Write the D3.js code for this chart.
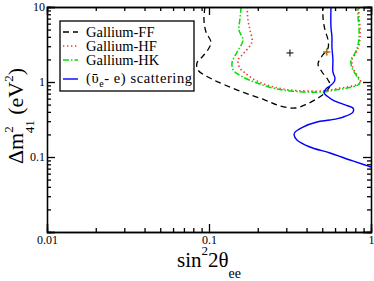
<!DOCTYPE html>
<html lang="en">
<head>
<meta charset="UTF-8">
<title>Gallium anomaly exclusion</title>
<script src="https://d3js.org/d3.v7.min.js"></script>
<style>
  body { margin: 0; background: #fff; }
  svg text { font-family: "Liberation Serif", "DejaVu Serif", serif; fill: #000; }
  .axis path, .axis line { stroke: #000; stroke-width: 1.3px; }
  .axis text { font-size: 12px; font-family: "Liberation Serif", serif; }
</style>
</head>
<body>
<svg width="374" height="281"></svg>
<script>
// ---- data (sin^2 2theta_ee , delta m^2_41 in eV^2) ----
const ffSin = [0.0944, 0.0931, 0.0958, 0.1029, 0.1, 0.0918, 0.0843, 0.0855, 0.1014, 0.1255, 0.1667, 0.2218, 0.2742, 0.3396, 0.4027, 0.471, 0.5275, 0.5585, 0.543, 0.4985, 0.471, 0.4985, 0.543, 0.543, 0.52, 0.5058, 0.5058];
const ffDm2 = [10, 6.71, 4.64, 3.41, 2.84, 2.22, 1.79, 1.445, 1.13, 0.912, 0.714, 0.575, 0.479, 0.45, 0.509, 0.612, 0.736, 0.912, 1.064, 1.36, 1.738, 2.22, 2.84, 3.63, 4.94, 7.13, 10];

const hfSin = [0.172, 0.174, 0.179, 0.184, 0.16, 0.151, 0.155, 0.167, 0.192, 0.228, 0.267, 0.316, 0.506, 0.599, 0.711, 0.843, 0.867, 0.855, 0.82, 0.774, 0.763, 0.808, 0.843, 0.855, 0.855, 0.843, 0.843];
const hfDm2 = [10, 6.71, 4.94, 3.41, 2.29, 1.97, 1.54, 1.318, 1.064, 0.912, 0.832, 0.782, 0.759, 0.807, 0.858, 0.94, 1.0, 1.064, 1.24, 1.54, 1.97, 2.44, 3.11, 3.98, 5.41, 7.36, 10];

const hkSin = [0.158, 0.155, 0.153, 0.162, 0.149, 0.139, 0.141, 0.162, 0.198, 0.248, 0.316, 0.506, 0.599, 0.711, 0.831, 0.855, 0.843, 0.808, 0.763, 0.753, 0.797, 0.831, 0.843, 0.843, 0.831, 0.831];
const hkDm2 = [10, 6.71, 4.94, 3.63, 2.51, 1.85, 1.445, 1.166, 0.97, 0.832, 0.759, 0.736, 0.782, 0.832, 0.912, 1.0, 1.064, 1.24, 1.54, 1.97, 2.44, 3.11, 3.98, 5.41, 7.36, 10];

const scSin = [0.566, 0.566, 0.574, 0.574, 0.582, 0.582, 0.599, 0.591, 0.558, 0.527, 0.513, 0.535, 0.582, 0.692, 0.774, 0.774, 0.672, 0.558, 0.464, 0.38, 0.34, 0.335, 0.349, 0.42, 0.558, 0.742, 0.918, 1.0];
const scDm2 = [10, 5.41, 3.98, 2.93, 1.97, 1.36, 1.13, 1.0, 0.885, 0.807, 0.714, 0.65, 0.575, 0.494, 0.45, 0.398, 0.341, 0.311, 0.293, 0.251, 0.215, 0.197, 0.169, 0.136, 0.113, 0.0912, 0.0782, 0.0736];

// best-fit points
const bestFF = [0.316, 2.44];
const bestHF = [0.535, 2.51];
const bestHK = [0.53, 2.51];

const legendLabels = ["Gallium-FF", "Gallium-HF", "Gallium-HK"];
const xMajor = [0.01, 0.1, 1];
const xMajorLabels = ["0.01", "0.1", "1"];
const yMajor = [0.01, 0.1, 1, 10];
const yMajorLabels = ["", "0.1", "1", "10"];

// ---- layout ----
const svg = d3.select("svg");
const pL = 47, pT = 7, pR = 371, pB = 232;

const x = d3.scaleLog().domain([0.01, 1]).range([pL, pR]);
const y = d3.scaleLog().domain([0.01, 10]).range([pB, pT]);

function minors(lo, hi) {
  const out = [];
  for (let d = lo; d < hi * 0.99; d *= 10)
    for (let k = 2; k <= 9; k++) out.push(d * k);
  return out;
}
const xMinor = minors(0.01, 1);
const yMinor = minors(0.01, 10);

// ---- curves ----
const line = d3.line().x(d => x(d[0])).y(d => y(d[1])).curve(d3.curveCatmullRom.alpha(0.5));
const zip = (a, b) => a.map((v, i) => [v, b[i]]);

const g = svg.append("g");
g.append("defs").append("clipPath").attr("id", "clip")
  .append("rect").attr("x", pL).attr("y", pT).attr("width", pR - pL).attr("height", pB - pT);

const curves = g.append("g").attr("clip-path", "url(#clip)");
const styles = [
  { d: zip(ffSin, ffDm2), color: "#000", dash: "6,4", w: 1.3 },
  { d: zip(hfSin, hfDm2), color: "#ff3030", dash: "1.4,2.6", w: 1.6 },
  { d: zip(hkSin, hkDm2), color: "#00e000", dash: "6,2,1.5,2", w: 1.5 },
  { d: zip(scSin, scDm2), color: "#0000ff", dash: null, w: 1.4 }
];
styles.forEach(s => {
  curves.append("path").attr("d", line(s.d))
    .attr("fill", "none").attr("stroke", s.color)
    .attr("stroke-width", s.w).attr("stroke-dasharray", s.dash);
});

// best-fit crosses
[[bestFF, "#000"], [bestHK, "#00e000"], [bestHF, "#ff3030"]].forEach(([p, c]) => {
  const cx = x(p[0]), cy = y(p[1]);
  g.append("path").attr("d", `M${cx - 3.5},${cy}H${cx + 3.5}M${cx},${cy - 3.5}V${cy + 3.5}`)
    .attr("stroke", c).attr("stroke-width", 1);
});

// ---- axes (ticks on all four sides, pointing in) ----
function addAxis(axis, tx, ty) {
  return g.append("g").attr("class", "axis").attr("transform", `translate(${tx},${ty})`).call(axis);
}
addAxis(d3.axisBottom(x).tickValues(xMinor).tickSize(-4).tickFormat(""), 0, pB);
addAxis(d3.axisBottom(x).tickValues(xMajor).tickSize(-8).tickPadding(3).tickFormat((d, i) => xMajorLabels[i]), 0, pB);
addAxis(d3.axisTop(x).tickValues(xMinor).tickSize(-4).tickFormat(""), 0, pT);
addAxis(d3.axisTop(x).tickValues(xMajor).tickSize(-8).tickFormat(""), 0, pT);
addAxis(d3.axisLeft(y).tickValues(yMinor).tickSize(-4).tickFormat(""), pL, 0);
addAxis(d3.axisLeft(y).tickValues(yMajor).tickSize(-8).tickPadding(2).tickFormat((d, i) => yMajorLabels[i]), pL, 0);
addAxis(d3.axisRight(y).tickValues(yMinor).tickSize(-4).tickFormat(""), pR, 0);
addAxis(d3.axisRight(y).tickValues(yMajor).tickSize(-8).tickFormat(""), pR, 0);
g.selectAll(".axis .domain").attr("stroke-width", 1.5);

// ---- legend ----
const lg = g.append("g");
lg.append("rect").attr("x", 60).attr("y", 21).attr("width", 134).attr("height", 70)
  .attr("fill", "#fff").attr("stroke", "#000").attr("stroke-width", 1.3);
const rowY = [32, 46, 60, 79];
const rowLabels = legendLabels.concat([null]);
styles.forEach((s, i) => {
  lg.append("line").attr("x1", 63).attr("x2", 78).attr("y1", rowY[i]).attr("y2", rowY[i])
    .attr("stroke", s.color).attr("stroke-width", s.w).attr("stroke-dasharray", s.dash);
  if (rowLabels[i]) {
    lg.append("text").attr("x", 86).attr("y", rowY[i] + 4.5).attr("font-size", 14.5).text(rowLabels[i]);
  }
});
const t4 = lg.append("text").attr("x", 86).attr("y", rowY[3] + 4).attr("font-size", 14.5)
  .attr("textLength", 106).attr("lengthAdjust", "spacing");
t4.append("tspan").text("(\u03c5\u0304");
t4.append("tspan").attr("font-size", 10).attr("dy", 4).text("e");
t4.append("tspan").attr("dy", -4).text("- e) scattering");

// ---- axis titles ----
const xt = g.append("text").attr("x", 209).attr("y", 267).attr("text-anchor", "middle").attr("font-size", 21);
xt.append("tspan").text("sin");
xt.append("tspan").attr("font-size", 13).attr("dy", -12).text("2");
xt.append("tspan").attr("dy", 12).text("2\u03b8");
xt.append("tspan").attr("font-size", 14).attr("dy", 11).text("ee");

const yt = g.append("text").attr("transform", "translate(23,116) rotate(-90)")
  .attr("text-anchor", "middle").attr("font-size", 22);
yt.append("tspan").text("\u0394m");
yt.append("tspan").attr("font-size", 13).attr("dy", -10).text("2");
yt.append("tspan").attr("font-size", 13).attr("dy", 21).attr("dx", -7).text("41");
yt.append("tspan").attr("dy", -11).text(" (eV");
yt.append("tspan").attr("font-size", 13).attr("dy", -10).text("2");
yt.append("tspan").attr("dy", 10).text(")");
</script>
</body>
</html>
